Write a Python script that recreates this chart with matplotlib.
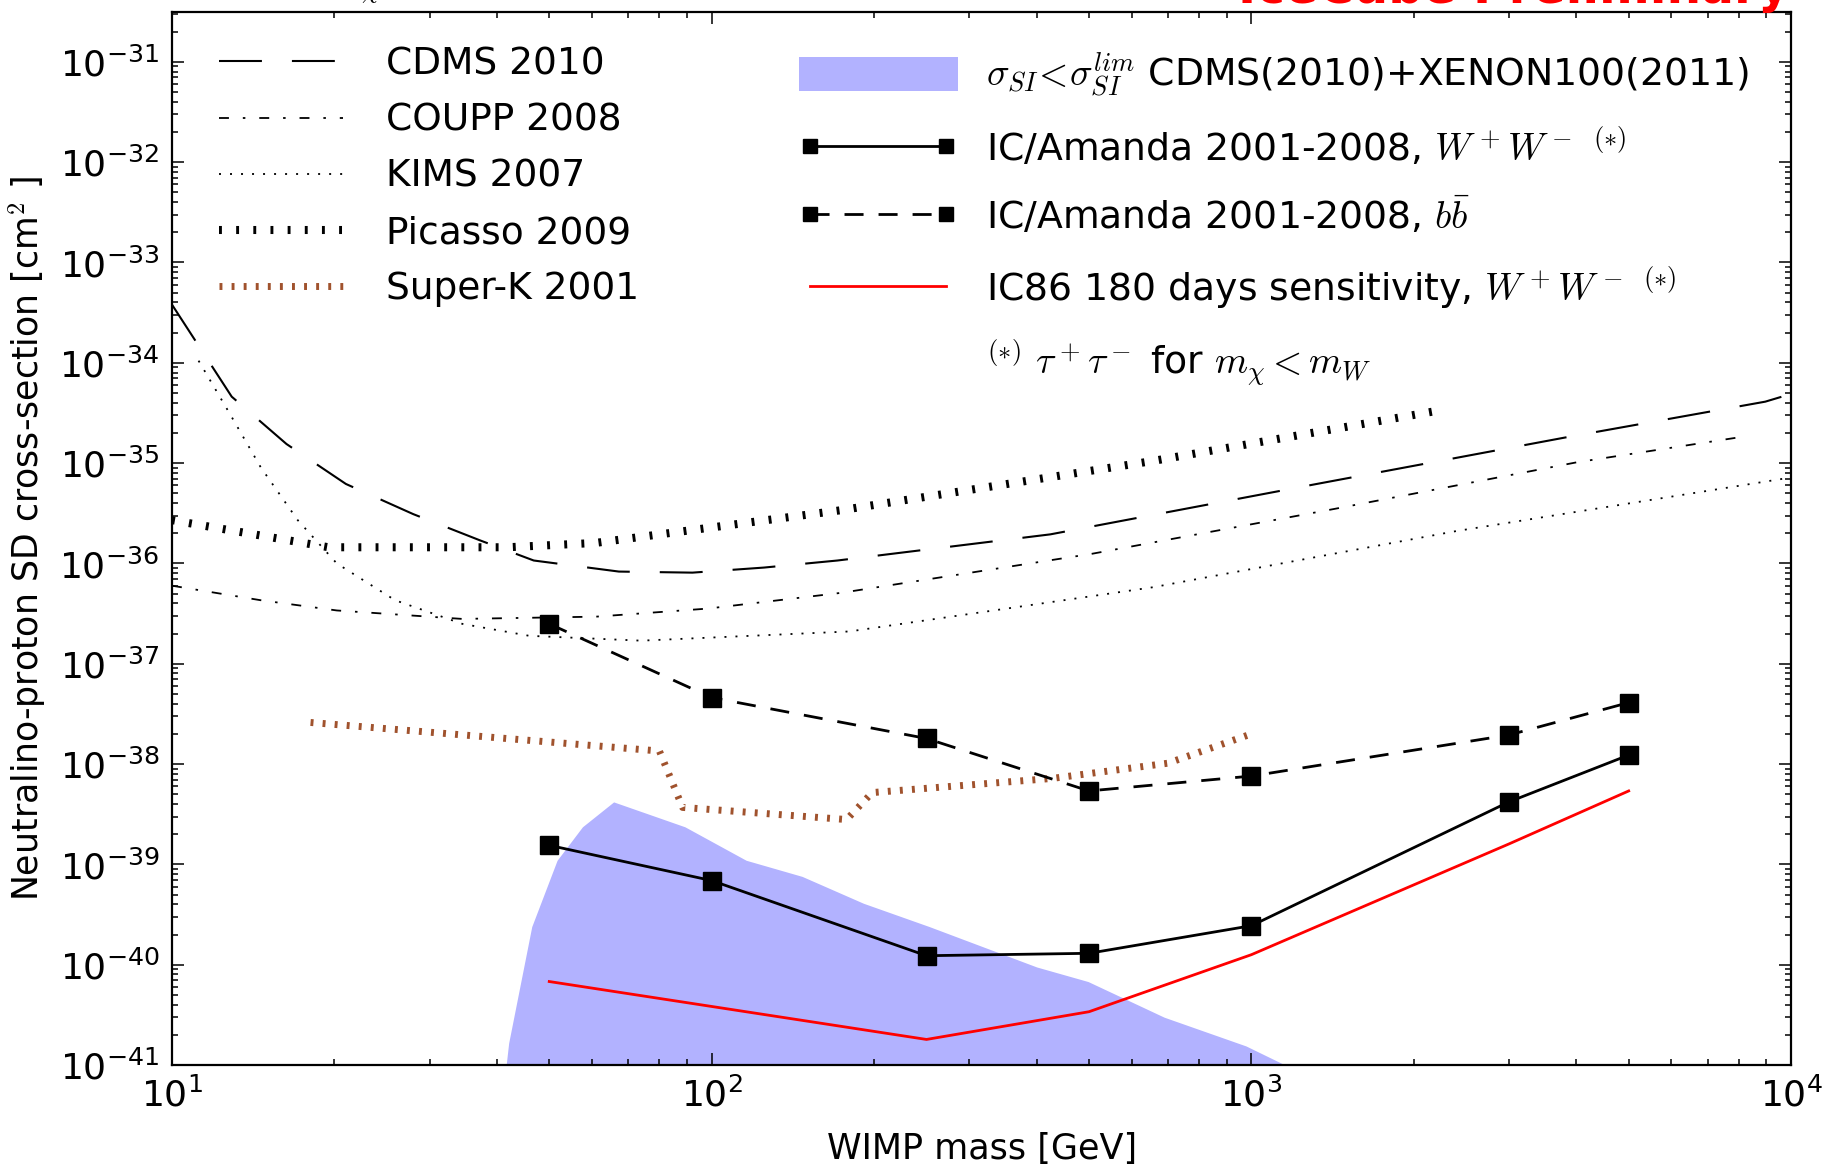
import matplotlib
matplotlib.use("Agg")
import matplotlib.pyplot as plt
from matplotlib.lines import Line2D
from matplotlib.patches import Patch
from matplotlib.ticker import LogLocator, NullFormatter

plt.rcParams['font.family'] = ['DejaVu Sans']
plt.rcParams['mathtext.fontset'] = 'cm'
plt.rcParams['axes.unicode_minus'] = False

# ---- direct-detection limits -------------------------------------------
cdms_mass = [10, 12.9, 16.3, 21.0, 28.0, 37.2, 46.8, 67.3, 92.1, 125, 171, 424, 1321, 3811, 8954, 10000]
cdms_sigma = [3.8e-34, 4.6e-35, 1.55e-35, 6.2e-36, 3.1e-36, 1.7e-36, 1.07e-36, 8.3e-37,
              8.1e-37, 9.1e-37, 1.07e-36, 1.95e-36, 6.2e-36, 1.8e-35, 4.1e-35, 4.9e-35]

coupp_mass = [10, 14.6, 20.2, 34.5, 61.1, 98.4, 174, 507, 1426, 4009, 8280]
coupp_sigma = [6.0e-37, 4.3e-37, 3.4e-37, 2.8e-37, 2.95e-37, 3.55e-37, 5.1e-37,
               1.25e-36, 3.5e-36, 1.02e-35, 1.86e-35]

kims_mass = [11.2, 12.8, 14.6, 17.1, 20.2, 25.9, 34.5, 45.9, 74, 180, 658, 2393, 10000]
kims_sigma = [1.05e-34, 3.1e-35, 9.1e-36, 2.7e-36, 1.0e-36, 4.3e-37, 2.5e-37, 1.9e-37,
              1.7e-37, 2.1e-37, 5.8e-37, 2.1e-36, 7.2e-36]

picasso_mass = [10, 19.5, 41.8, 60.8, 174, 656, 2193]
picasso_sigma = [2.7e-36, 1.45e-36, 1.45e-36, 1.6e-36, 3.4e-36, 1.05e-35, 3.3e-35]

superk_mass = [18.06, 80.0, 88.3, 177.8, 198.3, 427.6, 699.8, 1000]
superk_sigma = [2.6e-38, 1.35e-38, 3.7e-39, 2.8e-39, 5.2e-39, 7.2e-39, 1.02e-38, 2.0e-38]

# ---- region allowed by spin-independent limits --------------------------
si_mass = [41.6, 42.05, 46.4, 51.7, 57.6, 65.8, 89.2, 115.8, 147, 191, 253, 400, 498, 689, 977, 1155]
si_sigma = [1.0e-41, 1.66e-41, 2.4e-40, 1.1e-39, 2.37e-39, 4.2e-39, 2.37e-39, 1.1e-39,
            7.6e-40, 4.1e-40, 2.4e-40, 9.5e-41, 6.8e-41, 3.0e-41, 1.55e-41, 1.0e-41]

# ---- IceCube / AMANDA limits and IC86 sensitivity ------------------------
ic_mass = [50, 100, 250, 500, 1000, 3000, 5000]
ic_ww = [1.55e-39, 6.9e-40, 1.23e-40, 1.30e-40, 2.45e-40, 4.2e-39, 1.23e-38]
ic_bb = [2.5e-37, 4.6e-38, 1.8e-38, 5.4e-39, 7.6e-39, 1.95e-38, 4.1e-38]

ic86_mass = [50, 250, 500, 1000, 3000, 5000]
ic86_ww = [6.8e-41, 1.8e-41, 3.4e-41, 1.26e-40, 1.6e-39, 5.4e-39]

x_limits = (10, 1e4)
y_limits = (1e-41, 10 ** -30.5)

fig = plt.figure(figsize=(18.24, 11.70), dpi=100)
ax = fig.add_axes([0.0943, 0.0897, 0.8877, 0.9003])
ax.set_xscale('log')
ax.set_yscale('log')

ax.fill_between(si_mass, si_sigma, 1e-43, color='blue', alpha=0.3, lw=0, zorder=1)

l_cdms, = ax.plot(cdms_mass, cdms_sigma, color='black', lw=1.5, ls=(0, (20.6, 14.4)), zorder=3)
l_coupp, = ax.plot(coupp_mass, coupp_sigma, color='black', lw=1.3,
                   ls=(0, (5.5, 7.7, 1.4, 7.7)), zorder=3)
l_kims, = ax.plot(kims_mass, kims_sigma, color='black', lw=1.3, ls=(0, (1.1, 5.0)), zorder=3)
l_pic, = ax.plot(picasso_mass, picasso_sigma, color='black', lw=5.8, ls=(0, (0.36, 1.77)), zorder=3)
l_sk, = ax.plot(superk_mass, superk_sigma, color='#a0522d', lw=5.0, ls=(0, (0.42, 1.32)), zorder=3)

l_ww, = ax.plot(ic_mass, ic_ww, color='black', lw=2.0, marker='s', ms=13, zorder=4)
l_bb, = ax.plot(ic_mass, ic_bb, color='black', lw=2.0, ls=(0, (6.85, 5.4)),
                marker='s', ms=13, zorder=4)
l_86, = ax.plot(ic86_mass, ic86_ww, color='red', lw=2.0, zorder=4)

ax.set_xlim(*x_limits)
ax.set_ylim(*y_limits)

ax.yaxis.set_major_locator(LogLocator(base=10, numticks=30))
ax.yaxis.set_minor_locator(LogLocator(base=10, subs=range(2, 10), numticks=300))
ax.yaxis.set_minor_formatter(NullFormatter())
ax.xaxis.set_minor_locator(LogLocator(base=10, subs=range(2, 10), numticks=50))
ax.xaxis.set_minor_formatter(NullFormatter())

ax.tick_params(which='both', direction='in', top=True, right=True, labelsize=26)
ax.tick_params(which='major', length=8.7, width=1.1, pad=9)
ax.tick_params(which='minor', length=4.3, width=1.1)
for s in ax.spines.values():
    s.set_linewidth(1.6)

ax.set_xlabel('WIMP mass [GeV]', fontsize=25.2, labelpad=13)
ax.set_ylabel(r'Neutralino-proton SD cross-section [cm$^2$ ]', fontsize=25, labelpad=8)

leg1 = ax.legend([l_cdms, l_coupp, l_kims, l_pic, l_sk],
                 ['CDMS 2010', 'COUPP 2008', 'KIMS 2007', 'Picasso 2009', 'Super-K 2001'],
                 loc='upper left', bbox_to_anchor=(0.029, 0.967), frameon=False,
                 fontsize=27, handlelength=3.3, handletextpad=1.15, labelspacing=0.54,
                 borderpad=0, borderaxespad=0)
ax.add_artist(leg1)

patch = Patch(facecolor='blue', alpha=0.3, edgecolor='none')
blank = Line2D([], [], color='none')
leg2 = ax.legend([patch, l_ww, l_bb, l_86, blank],
                 [r'$\sigma_{SI}\!<\!\sigma_{SI}^{lim}$ CDMS(2010)+XENON100(2011)',
                  r'IC/Amanda 2001-2008, $W^+W^-$ $^{(*)}$',
                  r'IC/Amanda 2001-2008, $b\bar{b}$',
                  r'IC86 180 days sensitivity, $W^+W^-$ $^{(*)}$',
                  r'$^{(*)}$ $\tau^+\tau^-$ for $m_\chi < m_W$'],
                 loc='upper right', bbox_to_anchor=(0.974, 0.963), frameon=False,
                 fontsize=27.2, handlelength=4.2, handletextpad=0.75, labelspacing=0.72,
                 numpoints=2, markerscale=0.8, borderpad=0, borderaxespad=0,
                 handleheight=1.0)

fig.text(1790 / 1824, 1 - 3 / 1170, 'IceCube Preliminary', color='red',
         fontsize=35, fontweight='bold', ha='right', va='baseline')
fig.text(330 / 1824, 1 + 7 / 1170, r'$m_\chi$', fontsize=26, ha='left', va='baseline')

fig.savefig('out.png', dpi=100)
